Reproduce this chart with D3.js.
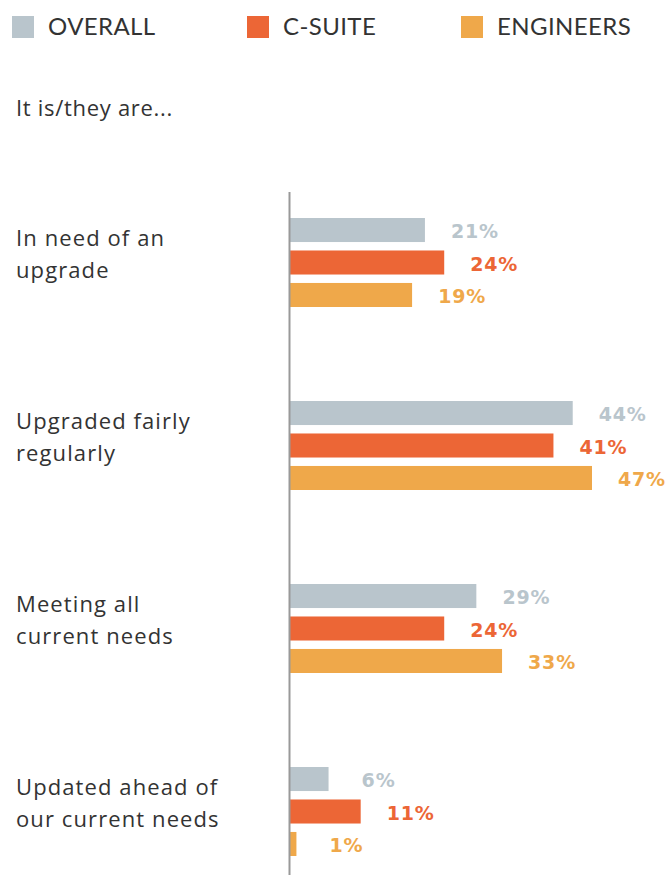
<!DOCTYPE html>
<html>
<head>
<meta charset="utf-8">
<script src="https://cdn.jsdelivr.net/npm/d3@7"></script>
<style>
  html, body { margin: 0; padding: 0; background: #fff; }
  svg { display: block; }
</style>
</head>
<body>
<svg id="chart" width="667" height="875"></svg>
<script>
const categories = [
  ["In need of an", "upgrade"],
  ["Upgraded fairly", "regularly"],
  ["Meeting all", "current needs"],
  ["Updated ahead of", "our current needs"]
];
const seriesNames = ["OVERALL", "C-SUITE", "ENGINEERS"];
const seriesColors = ["#b9c5cc", "#ec6636", "#efa84a"];
const overall = [21, 44, 29, 6];
const csuite = [24, 41, 24, 11];
const engineers = [19, 47, 33, 1];
const seriesValues = [overall, csuite, engineers];
const subtitle = "It is/they are...";

const svg = d3.select("#chart");
const labelFont = "'Open Sans', Lato, sans-serif";
const legendFont = "Lato, 'Open Sans', sans-serif";
const valueFont = "'DejaVu Sans', sans-serif";

// Legend
const legendX = [12, 247, 461];
const legend = svg.append("g");
seriesNames.forEach((name, i) => {
  legend.append("rect").attr("x", legendX[i]).attr("y", 16).attr("width", 22).attr("height", 22)
    .attr("fill", seriesColors[i]);
  legend.append("text").attr("x", legendX[i] + 36).attr("y", 35)
    .attr("font-family", legendFont).attr("font-size", 24).attr("letter-spacing", 0.4)
    .attr("fill", "#333")
    .text(name);
});

svg.append("text").attr("x", 16).attr("y", 116)
  .attr("font-family", labelFont).attr("font-size", 22).attr("letter-spacing", 0.7)
  .attr("fill", "#333")
  .text(subtitle);

const catKeys = categories.map(c => c.join(" "));
const y0 = d3.scaleBand().domain(catKeys).range([218, 218 + 183 * 4]).paddingInner(0).paddingOuter(0);
const y1 = d3.scaleBand().domain(seriesNames).range([0, 89]).paddingInner(0.26).paddingOuter(0);
const x = d3.scaleLinear().domain([0, 47]).range([290, 592]);

const groups = svg.append("g").selectAll("g").data(categories).join("g")
  .attr("transform", (d, i) => `translate(0,${y0(catKeys[i])})`);

groups.each(function(cat, gi) {
  const g = d3.select(this);
  cat.forEach((line, li) => {
    g.append("text").attr("x", 16).attr("y", 28 + li * 32)
      .attr("font-family", labelFont).attr("font-size", 22).attr("letter-spacing", 1.1)
      .attr("fill", "#333")
      .text(line);
  });
  seriesNames.forEach((s, si) => {
    const v = seriesValues[si][gi];
    g.append("rect").attr("x", x(0)).attr("y", y1(s))
      .attr("width", x(v) - x(0)).attr("height", y1.bandwidth())
      .attr("fill", seriesColors[si]);
    g.append("text").attr("x", x(v) + 50).attr("y", y1(s) + y1.bandwidth() / 2 + 1)
      .attr("text-anchor", "middle").attr("dominant-baseline", "central")
      .attr("font-family", valueFont).attr("font-weight", "bold").attr("font-size", 19)
      .attr("letter-spacing", 0.8).attr("fill", seriesColors[si])
      .text(v + "%");
  });
});

// axis line
svg.append("line").attr("x1", x(0) - 0.5).attr("x2", x(0) - 0.5).attr("y1", 192).attr("y2", 875)
  .attr("stroke", "#999").attr("stroke-width", 2);
</script>
</body>
</html>
